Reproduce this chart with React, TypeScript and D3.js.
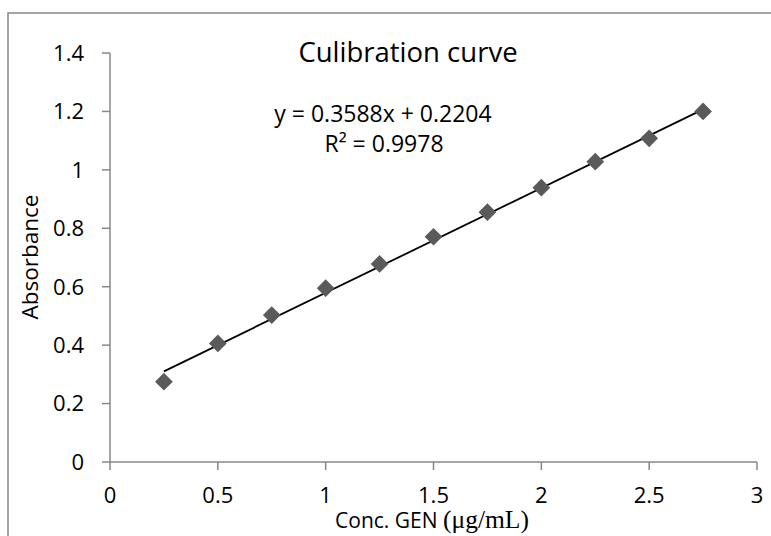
import React from "react";
import * as d3 from "d3";

const concentrations = [0.25, 0.5, 0.75, 1.0, 1.25, 1.5, 1.75, 2.0, 2.25, 2.5, 2.75];
const absorbance = [0.275, 0.406, 0.503, 0.595, 0.678, 0.771, 0.855, 0.939, 1.028, 1.108, 1.2];
const xTicks = [0, 0.5, 1, 1.5, 2, 2.5, 3];
const yTicks = [0, 0.2, 0.4, 0.6, 0.8, 1, 1.2, 1.4];
const slope = 0.3588;
const intercept = 0.2204;
const titleText = "Culibration curve";
const equationText = "y = 0.3588x + 0.2204";
const r2Text = "R² = 0.9978";

const W = 771;
const H = 536;
const FONT = "'Open Sans', 'Noto Sans', sans-serif";
const SERIF = "'Liberation Serif', 'DejaVu Serif', serif";

export default function App() {
  const x = d3.scaleLinear().domain([0, 3]).range([110, 757]);
  const y = d3.scaleLinear().domain([0, 1.4]).range([462, 53]);
  const x0 = concentrations[0];
  const x1 = concentrations[concentrations.length - 1];
  const line = d3.line<number>()
    .x((d) => x(d))
    .y((d) => y(slope * d + intercept));
  const diamond = d3.symbol().type(d3.symbolDiamond2).size(200)();
  const axisColor = "#878787";
  const fmt = (v: number) => String(+v.toFixed(1));

  return (
    <div style={{ position: "absolute", left: 0, top: 0 }}>
      <svg width={W} height={H} style={{ display: "block", background: "#fff" }}>
        <rect x={8} y={13} width={W + 20} height={H + 20} fill="#fff" stroke={axisColor} strokeWidth={1.5} />
        {/* axes */}
        <line x1={x(0)} x2={x(0)} y1={y(1.4)} y2={y(0)} stroke={axisColor} strokeWidth={1.5} />
        <line x1={x(0)} x2={x(3)} y1={y(0)} y2={y(0)} stroke={axisColor} strokeWidth={1.5} />
        {yTicks.map((t) => (
          <g key={"y" + t}>
            <line x1={x(0) - 8} x2={x(0)} y1={y(t)} y2={y(t)} stroke={axisColor} strokeWidth={1.5} />
            <text x={84} y={y(t)} dy="0.36em" textAnchor="end" fontFamily={FONT} fontSize={22} fill="#000">
              {fmt(t)}
            </text>
          </g>
        ))}
        {xTicks.map((t) => (
          <g key={"x" + t}>
            <line x1={x(t)} x2={x(t)} y1={y(0)} y2={y(0) + 8} stroke={axisColor} strokeWidth={1.5} />
            <text x={x(t)} y={503} textAnchor="middle" fontFamily={FONT} fontSize={22} fill="#000">
              {fmt(t)}
            </text>
          </g>
        ))}
        {/* trendline */}
        <path d={line([x0, x1]) || ""} fill="none" stroke="#000" strokeWidth={1.8} />
        {/* points */}
        {concentrations.map((c, i) => (
          <path key={"p" + i} d={diamond || ""} transform={`translate(${x(c)},${y(absorbance[i])})`} fill="#5a5a5a" />
        ))}
        {/* texts */}
        <text x={408} y={62} textAnchor="middle" fontFamily={FONT} fontSize={27.5} fill="#000">{titleText}</text>
        <text x={383} y={122} textAnchor="middle" fontFamily={FONT} fontSize={23} fill="#000">{equationText}</text>
        <text x={384} y={152} textAnchor="middle" fontFamily={FONT} fontSize={23} fill="#000">{r2Text}</text>
        <text transform={`translate(38,257) rotate(-90)`} textAnchor="middle" fontFamily={FONT} fontSize={22.5} fill="#000">Absorbance</text>
        <text x={432} y={528} textAnchor="middle" fill="#000">
          <tspan fontFamily={FONT} fontSize={21}>Conc. GEN </tspan>
          <tspan fontFamily={SERIF} fontSize={25.5}>(μg/mL)</tspan>
        </text>
      </svg>
    </div>
  );
}
